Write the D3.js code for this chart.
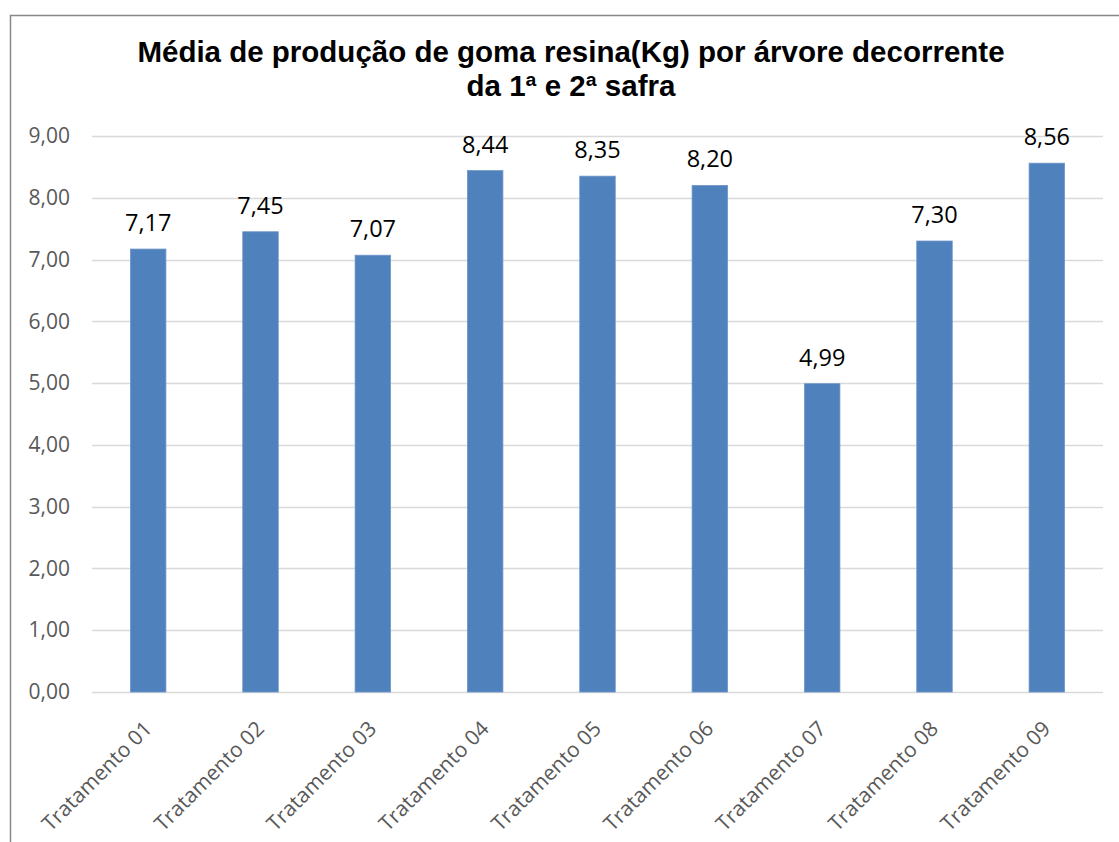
<!DOCTYPE html>
<html>
<head>
<meta charset="utf-8">
<script src="https://cdn.jsdelivr.net/npm/d3@7"></script>
<style>
  body { margin: 0; background: #fff; }
  svg { display: block; }
</style>
</head>
<body>
<div id="chart"></div>
<script>
var categories = ["Tratamento 01", "Tratamento 02", "Tratamento 03", "Tratamento 04", "Tratamento 05",
                  "Tratamento 06", "Tratamento 07", "Tratamento 08", "Tratamento 09"];
var values = [7.17, 7.45, 7.07, 8.44, 8.35, 8.20, 4.99, 7.30, 8.56];
var yTicks = [0, 1, 2, 3, 4, 5, 6, 7, 8, 9];
var titleLines = ["Média de produção de goma resina(Kg) por árvore decorrente", "da 1ª e 2ª safra"];

var W = 1119, H = 842;
var plot = {left: 92, right: 1103, top: 136, bottom: 692};

var fmt = function(v){ return d3.format(".2f")(v).replace(".", ","); };

var svg = d3.select("#chart").append("svg")
  .attr("width", W)
  .attr("height", H);

// chart frame (runs off the right and bottom of the picture)
svg.append("rect")
  .attr("x", 10.5).attr("y", 15.5)
  .attr("width", W + 20).attr("height", H + 20)
  .attr("fill", "#fff")
  .attr("stroke", "#888")
  .attr("stroke-width", 1.5);

var x = d3.scaleBand()
  .domain(categories)
  .range([plot.left, plot.right]);

var y = d3.scaleLinear()
  .domain([0, 9])
  .range([plot.bottom, plot.top]);

var barW = x.bandwidth() * 0.316;

// gridlines
svg.append("g")
  .selectAll("line")
  .data(yTicks)
  .enter().append("line")
  .attr("x1", plot.left).attr("x2", plot.right)
  .attr("y1", function(d){ return Math.round(y(d)) + 0.5; })
  .attr("y2", function(d){ return Math.round(y(d)) + 0.5; })
  .attr("stroke", "#d9d9d9")
  .attr("stroke-width", 1.3);

// y axis labels
var yAxis = d3.axisLeft(y).tickValues(yTicks).tickFormat(fmt).tickSize(0).tickPadding(22);
var gy = svg.append("g")
  .attr("transform", "translate(" + plot.left + ",0)")
  .call(yAxis);
gy.select(".domain").remove();
gy.selectAll("text")
  .attr("fill", "#595959")
  .style("font-family", "'Open Sans', sans-serif")
  .style("font-size", "21px");

// bars
svg.append("g")
  .selectAll("rect")
  .data(values)
  .enter().append("rect")
  .attr("x", function(d, i){ return x(categories[i]) + (x.bandwidth() - barW) / 2; })
  .attr("y", function(d){ return y(d); })
  .attr("width", barW)
  .attr("height", function(d){ return y(0) - y(d); })
  .attr("fill", "#4f81bd")
  .attr("stroke", "#6f96c8")
  .attr("stroke-width", 0.8);

// value labels
svg.append("g")
  .selectAll("text")
  .data(values)
  .enter().append("text")
  .attr("x", function(d, i){ return x(categories[i]) + x.bandwidth() / 2; })
  .attr("y", function(d){ return y(d) - 18; })
  .attr("text-anchor", "middle")
  .attr("fill", "#000")
  .style("font-family", "'Open Sans', sans-serif")
  .style("font-size", "23.5px")
  .text(fmt);

// x axis labels
svg.append("g")
  .selectAll("text")
  .data(categories)
  .enter().append("text")
  .attr("transform", function(d){
    return "translate(" + (x(d) + x.bandwidth() / 2 + 5) + "," + (plot.bottom + 38) + ") rotate(-45)";
  })
  .attr("text-anchor", "end")
  .attr("fill", "#595959")
  .style("font-family", "'Open Sans', sans-serif")
  .style("font-size", "21px")
  .text(function(d){ return d; });

// title
svg.append("g")
  .selectAll("text")
  .data(titleLines)
  .enter().append("text")
  .attr("x", 571)
  .attr("y", function(d, i){ return 62 + i * 34; })
  .attr("text-anchor", "middle")
  .attr("fill", "#000")
  .style("font-family", "'Liberation Sans', Arial, sans-serif")
  .style("font-weight", "bold")
  .style("font-size", "29.5px")
  .text(function(d){ return d; });
</script>
</body>
</html>
